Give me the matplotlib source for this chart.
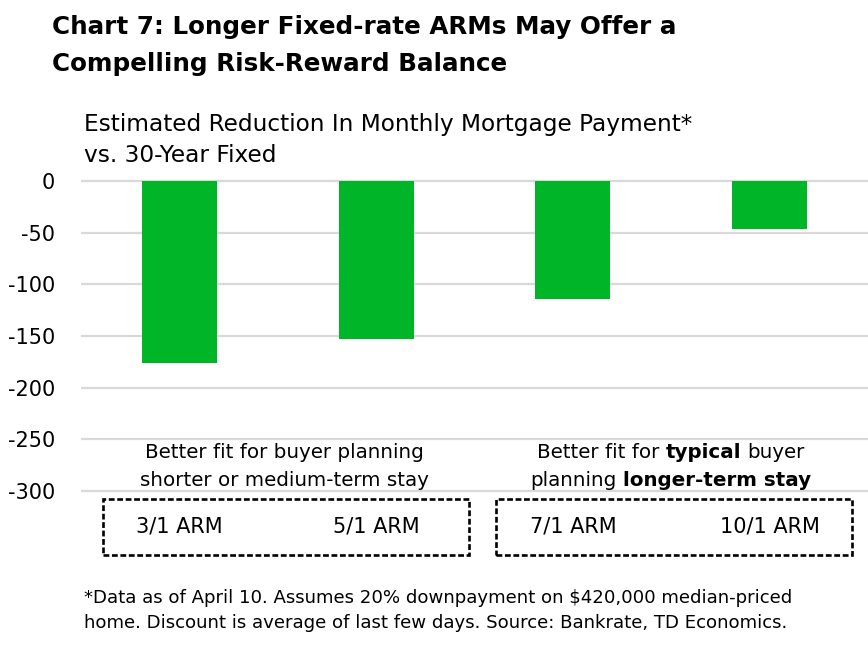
import matplotlib.pyplot as plt
from matplotlib.patches import Rectangle
from matplotlib.transforms import blended_transform_factory

plt.rcParams['font.family'] = ['DejaVu Sans']
plt.rcParams['axes.unicode_minus'] = False

# data
arms = ['3/1 ARM', '5/1 ARM', '7/1 ARM', '10/1 ARM']
reduction = [-176, -153, -114, -46]
yticks = [0, -50, -100, -150, -200, -250, -300]

W, H = 868, 648
fig = plt.figure(figsize=(W / 100, H / 100), dpi=100)
renderer = fig.canvas.get_renderer()


def text_width(s, size, weight='normal'):
    t = fig.text(0, 0, s, fontsize=size, fontweight=weight)
    w = t.get_window_extent(renderer).width
    t.remove()
    return w


def fit_size(s, target, weight='normal'):
    # font size that makes s about target pixels wide
    return 12 * target / text_width(s, 12, weight)


title_size = fit_size('Chart 7: Longer Fixed-rate ARMs May Offer a', 624, 'bold')
sub_size = fit_size('Estimated Reduction In Monthly Mortgage Payment*', 608)
foot_size = fit_size('*Data as of April 10. Assumes 20% downpayment on $420,000 median-priced', 708)
note_size = fit_size('Better fit for buyer planning', 277)
cat_size = fit_size('3/1 ARM', 87)
ytick_size = fit_size('-300', 47)

# axes: x from 81 px to right edge, y (0 -> -300) from 181 px to 491 px
ax = fig.add_axes([81 / W, 1 - 493 / H, 1 - 81 / W, (493 - 179) / H])
x = list(range(len(arms)))
ax.bar(x, reduction, width=0.38, color='#00b528', zorder=2)
ax.set_xlim(-0.5, 3.5)
ax.set_ylim(-302, 2)
ax.set_yticks(yticks)
ax.grid(axis='y', color='#d9d9d9', linewidth=1.6)
ax.set_axisbelow(True)
for s in ax.spines.values():
    s.set_visible(False)
ax.tick_params(axis='y', length=0, pad=26 * 0.72, labelsize=ytick_size, labelcolor='black')
ax.set_xticks([])

# category labels inside the dashed boxes
bt = blended_transform_factory(ax.transData, fig.transFigure)
for i, name in zip(x, arms):
    ax.text(i, 1 - 526 / H, name, transform=bt, ha='center', va='center', fontsize=cat_size)

# dashed boxes
for x0, x1 in [(103, 469), (496, 852)]:
    fig.patches.append(Rectangle((x0 / W, 1 - 555 / H), (x1 - x0) / W, 56 / H,
                                 transform=fig.transFigure, fill=False, edgecolor='black',
                                 linewidth=1.9, linestyle=(0, (2.2, 1.0))))

# group notes, mixed weight
space = text_width('a a', note_size) - text_width('aa', note_size)


def mixed_line(xc, yc, parts):
    widths = [text_width(s, note_size, w) for s, w in parts]
    total = sum(widths) + space * (len(parts) - 1)
    xp = xc - total / 2
    for (s, w), wd in zip(parts, widths):
        fig.text(xp / W, 1 - yc / H, s, fontsize=note_size, fontweight=w, va='center', ha='left')
        xp += wd + space


mixed_line(284, 452, [('Better fit for buyer planning', 'normal')])
mixed_line(284, 481, [('shorter or medium-term stay', 'normal')])
mixed_line(671, 452, [('Better fit for', 'normal'), ('typical', 'bold'), ('buyer', 'normal')])
mixed_line(671, 481, [('planning', 'normal'), ('longer-term stay', 'bold')])

# title, subtitle, footnote
fig.text(52 / W, 1 - 27 / H, 'Chart 7: Longer Fixed-rate ARMs May Offer a',
         fontsize=title_size, fontweight='bold', va='center')
fig.text(52 / W, 1 - 64 / H, 'Compelling Risk-Reward Balance',
         fontsize=title_size, fontweight='bold', va='center')
fig.text(84 / W, 1 - 125 / H, 'Estimated Reduction In Monthly Mortgage Payment*',
         fontsize=sub_size, va='center')
fig.text(84 / W, 1 - 155 / H, 'vs. 30-Year Fixed', fontsize=sub_size, va='center')
fig.text(84 / W, 1 - 598 / H,
         '*Data as of April 10. Assumes 20% downpayment on $420,000 median-priced',
         fontsize=foot_size, va='center')
fig.text(84 / W, 1 - 623 / H,
         'home. Discount is average of last few days. Source: Bankrate, TD Economics.',
         fontsize=foot_size, va='center')

fig.savefig('out.png', dpi=100)
